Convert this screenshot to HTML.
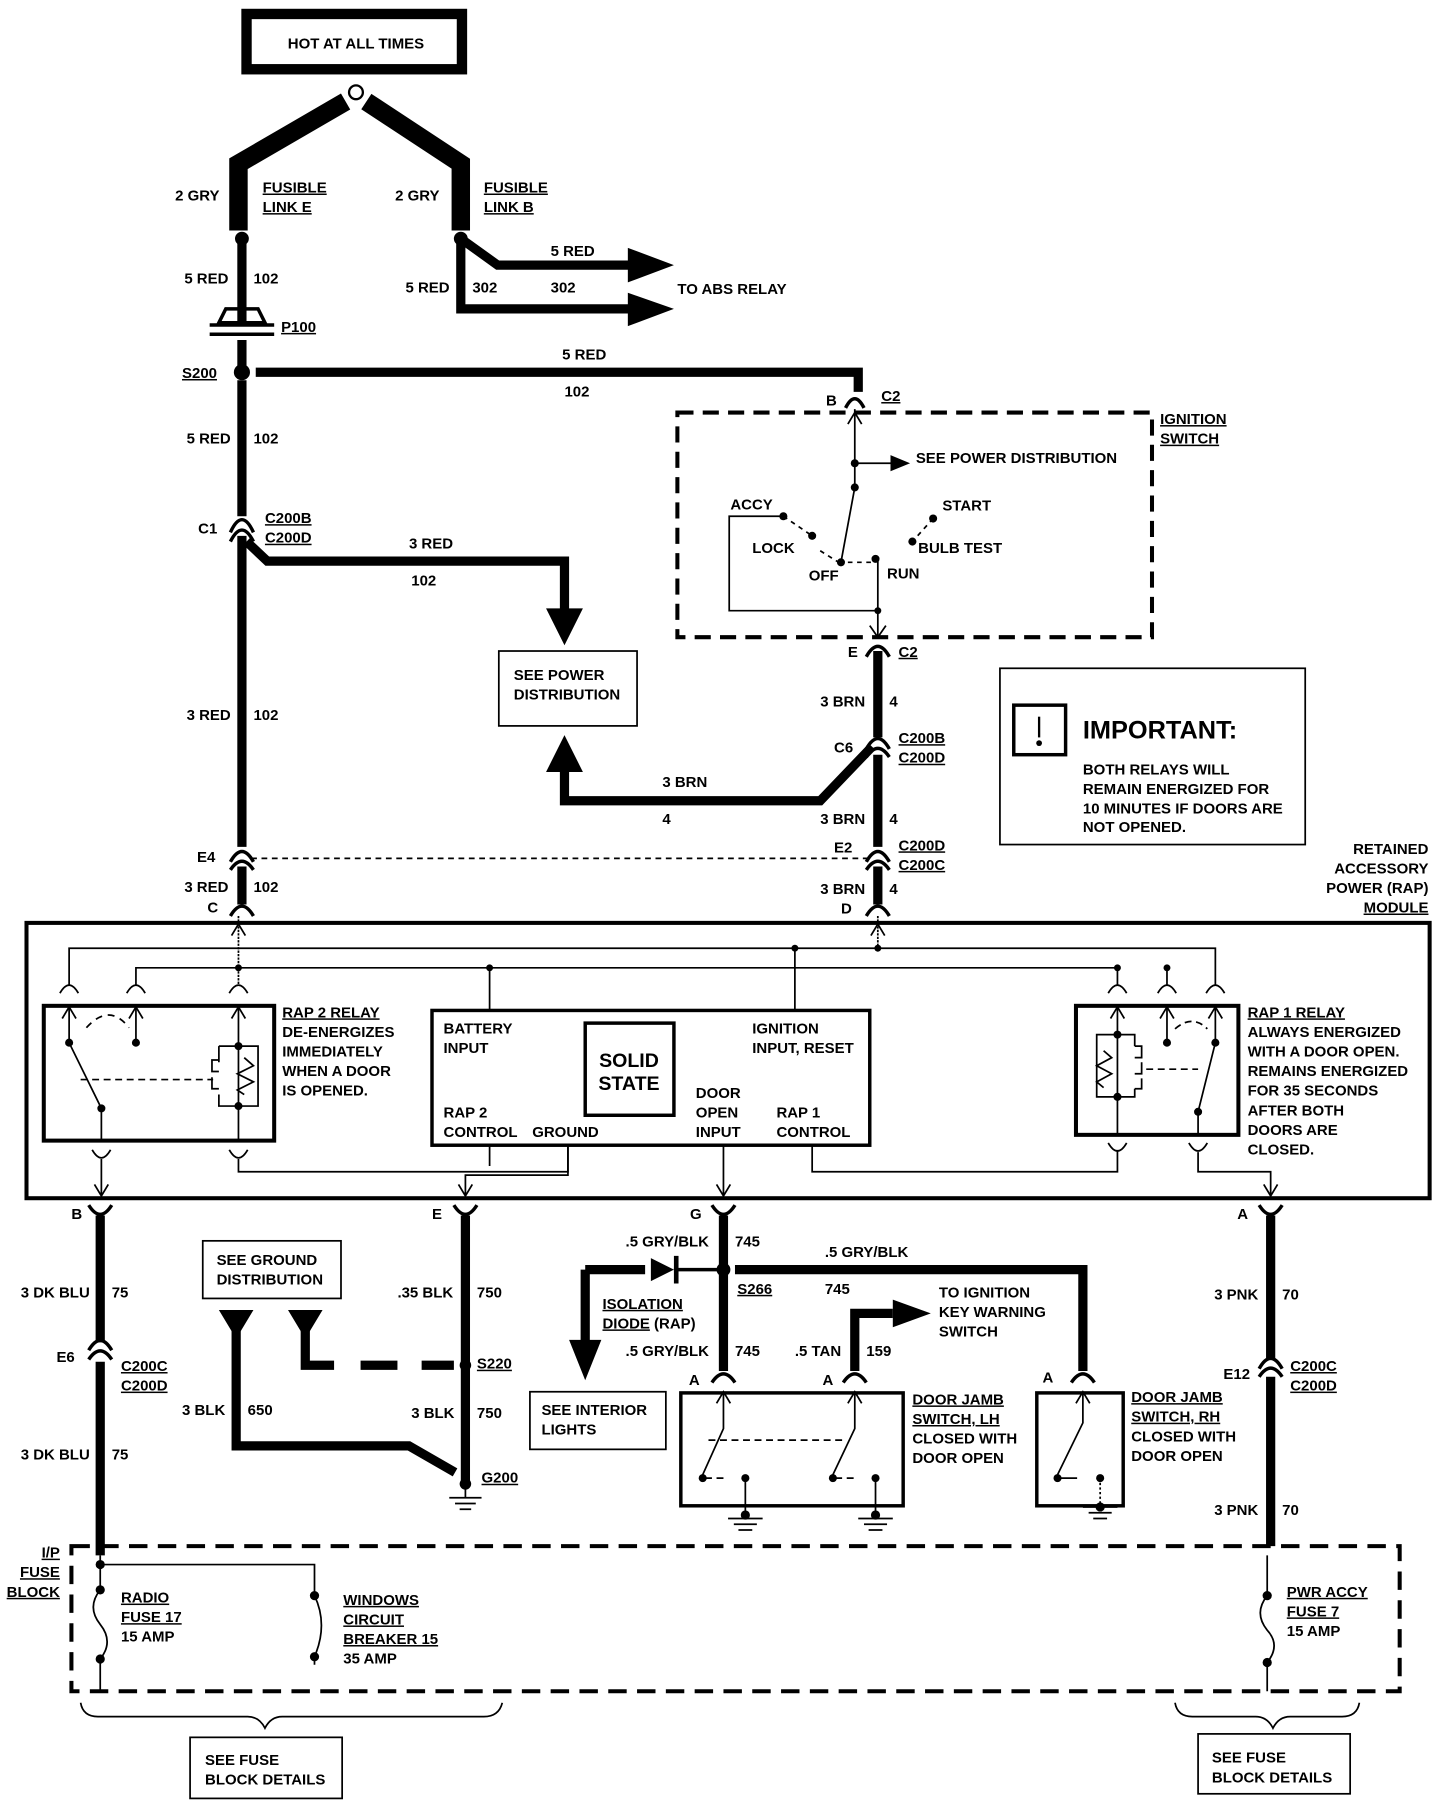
<!DOCTYPE html>
<html><head><meta charset="utf-8"><style>
html,body{margin:0;padding:0;background:#fff}
svg{display:block}
text{font-family:"Liberation Sans Narrow","Liberation Sans",sans-serif;font-size:13px;font-weight:bold;fill:#000}
.u{text-decoration:underline}
</style></head><body>
<svg width="1440" height="1802" viewBox="0 0 1250 1564" xmlns="http://www.w3.org/2000/svg">
<rect width="1250" height="1564" fill="#fff"/>
<g fill="none" stroke="#000" stroke-linejoin="miter">
<rect x="214" y="12" width="187" height="48" stroke-width="9"/>
<circle cx="309" cy="80" r="6" stroke-width="2"/>
<path d="M300 88 L207 142 L207 200" stroke-width="16"/>
<path d="M318 88 L400 142 L400 200" stroke-width="16"/>
<path d="M210 207 V280" stroke-width="8"/>
<path d="M210 295 V323" stroke-width="8"/>
<path d="M190 280 L196 268 H224 L230 280 Z M182 282 H238 M182 290 H238" stroke-width="3"/>
<path d="M400 207 L432 230 H548" stroke-width="8"/>
<path d="M400 207 V268 H548" stroke-width="8"/>
<path d="M222 323 H745 V340" stroke-width="8"/>
<path d="M210 330 V448" stroke-width="8"/>
<path d="M210 465 V735" stroke-width="8"/>
<path d="M214 470 L232 487 H490 V530" stroke-width="8"/>
<path d="M490 665 V695 H712 L757 648" stroke-width="8"/>
<path d="M762 565 V640 M762 655 V735 M762 752 V785" stroke-width="8"/>
<path d="M210 752 V785" stroke-width="8"/>
<path d="M218 745 H755" stroke-width="1.5" stroke-dasharray="5 4"/>
<path d="M200 462 Q210 440 220 462 M200 470 Q210 450 220 470" stroke-width="3"/>
<path d="M200 748 Q210 730 220 748 M200 755 Q210 740 220 755" stroke-width="3"/>
<path d="M200 795 Q210 778 220 795" stroke-width="3"/>
<path d="M752 650 Q762 632 772 650 M752 657 Q762 642 772 657" stroke-width="3"/>
<path d="M752 748 Q762 730 772 748 M752 755 Q762 740 772 755" stroke-width="3"/>
<path d="M752 795 Q762 778 772 795" stroke-width="3"/>
<path d="M734 354 Q742 338 750 354" stroke-width="3"/>
<path d="M752 570 Q762 552 772 570" stroke-width="3"/>
<rect x="433" y="565" width="120" height="65" stroke-width="1.5"/>
<rect x="588" y="358" width="412" height="195" stroke-width="3.5" stroke-dasharray="14 8"/>
<path d="M742 355 V423 L730 488" stroke-width="1.5"/>
<path d="M736 368 L742 358 L748 368" stroke-width="1.5"/>
<path d="M742 402 H775" stroke-width="1.5"/>
<path d="M680 448 L705 465 M712 478 L728 488 M736 488 H760 M810 450 L792 470" stroke-width="1.5" stroke-dasharray="4 4"/>
<path d="M680 448 H633 V530 H762 V485 M762 530 V553" stroke-width="1.5"/>
<path d="M755 543 L762 553 L769 543" stroke-width="1.5"/>
<rect x="868" y="580" width="265" height="153" stroke-width="1.5"/>
<rect x="880" y="612" width="45" height="43" stroke-width="3"/>
<path d="M902 622 V640" stroke-width="2"/>
<rect x="23" y="801" width="1218" height="239" stroke-width="3.5"/>
<path d="M60 855 V823 H1055 V855" stroke-width="1.5"/>
<path d="M118 855 V840 H970 V855" stroke-width="1.5"/>
<path d="M207 795 V855 M762 795 V823" stroke-width="1.5" stroke-dasharray="2 1"/>
<path d="M425 840 V878 M690 823 V878 M1013 840 V855" stroke-width="1.5"/>
<path d="M52 862 Q60 848 68 862 M110 862 Q118 848 126 862 M199 862 Q207 848 215 862 M962 862 Q970 848 978 862 M1005 862 Q1013 848 1021 862 M1047 862 Q1055 848 1063 862" stroke-width="1.5"/>
<path d="M201 812 L207 802 L213 812 M756 812 L762 802 L768 812" stroke-width="1.5"/>
<rect x="38" y="873" width="200" height="117" stroke-width="3.5"/>
<path d="M60 873 V905 L88 962 V990 M118 873 V905 M207 873 V962 V990" stroke-width="1.5"/>
<path d="M54 884 L60 874 L66 884 M112 884 L118 874 L124 884 M201 884 L207 874 L213 884" stroke-width="1.5"/>
<path d="M75 892 Q95 870 112 892" stroke-width="1.5" stroke-dasharray="6 5"/>
<path d="M70 937 H185" stroke-width="1.5" stroke-dasharray="6 4"/>
<path d="M190 908 H224 V960 H190 V950 M190 922 V908 M212 918 L220 925 L206 932 L220 939 L206 946 L212 950" stroke-width="1.5"/>
<path d="M190 920 H184 V930 H190 M184 935 V945 H190" stroke-width="1.5"/>
<path d="M80 998 Q88 1012 96 998 M199 998 Q207 1012 215 998" stroke-width="1.5"/>
<path d="M88 1006 V1038 M82 1028 L88 1038 L94 1028 M207 1006 V1017 H493 V995" stroke-width="1.5"/>
<rect x="375" y="877" width="380" height="117" stroke-width="3"/>
<rect x="508" y="888" width="77" height="80" stroke-width="3"/>
<path d="M425 995 V1012 M493 995 V1020 H404 V1038 M398 1028 L404 1038 L410 1028" stroke-width="1.5"/>
<path d="M628 995 V1038 M622 1028 L628 1038 L634 1028 M705 995 V1017 H970 V998" stroke-width="1.5"/>
<rect x="934" y="873" width="141" height="112" stroke-width="3.5"/>
<path d="M970 873 V985 M1013 873 V905 M1055 873 V905 L1040 965 V985" stroke-width="1.5"/>
<path d="M964 884 L970 874 L976 884 M1007 884 L1013 874 L1019 884 M1049 884 L1055 874 L1061 884" stroke-width="1.5"/>
<path d="M970 898 H952 V952 H970 M970 898 H985 V908 M985 945 V952 H970" stroke-width="1.5"/>
<path d="M958 912 L965 918 L952 925 L965 932 L952 939 L958 944" stroke-width="1.5"/>
<path d="M985 908 H991 V918 H985 M991 922 V932 H985 M991 936 V945 H985" stroke-width="1.5"/>
<path d="M1020 893 Q1035 880 1048 893 M995 928 H1040" stroke-width="1.5" stroke-dasharray="6 4"/>
<path d="M962 992 Q970 1006 978 992 M1032 992 Q1040 1006 1048 992 M1040 1000 V1017 H1103 V1038 M1097 1028 L1103 1038 L1109 1028" stroke-width="1.5"/>
<path d="M77 1046 Q87 1062 97 1046 M394 1046 Q404 1062 414 1046 M618 1046 Q628 1062 638 1046 M1093 1046 Q1103 1062 1113 1046" stroke-width="3"/>
<path d="M87 1055 V1165 M87 1182 V1350" stroke-width="8"/>
<path d="M77 1172 Q87 1155 97 1172 M77 1180 Q87 1165 97 1180" stroke-width="3"/>
<path d="M404 1055 V1285" stroke-width="8"/>
<path d="M628 1055 V1190" stroke-width="8"/>
<path d="M638 1102 H940 V1190" stroke-width="8"/>
<path d="M508 1102 V1165 M508 1102 H560" stroke-width="8"/>
<path d="M742 1190 V1140 H775" stroke-width="8"/>
<path d="M1103 1055 V1180 M1103 1195 V1342" stroke-width="8"/>
<path d="M1093 1188 Q1103 1170 1113 1188 M1093 1195 Q1103 1180 1113 1195" stroke-width="3"/>
<path d="M618 1200 Q628 1185 638 1200 M732 1200 Q742 1185 752 1200 M930 1200 Q940 1185 950 1200" stroke-width="3"/>
<path d="M585 1102 H628" stroke-width="3"/>
<path d="M265 1150 V1185 H290" stroke-width="8"/>
<path d="M313 1185 H345 M366 1185 H394" stroke-width="8"/>
<path d="M205 1150 V1255 H355 L395 1278" stroke-width="8"/>
<rect x="176" y="1077" width="120" height="50" stroke-width="1.5"/>
<rect x="460" y="1208" width="118" height="50" stroke-width="1.5"/>
<path d="M404 1292 V1300 M390 1300 H418 M395 1305 H413 M399 1310 H409" stroke-width="1.5"/>
<rect x="591" y="1209" width="193" height="98" stroke-width="3"/>
<path d="M628 1209 V1240 L610 1280 M742 1209 V1240 L723 1280 M622 1218 L628 1208 L634 1218 M736 1218 L742 1208 L748 1218" stroke-width="1.5"/>
<path d="M615 1250 H735 M612 1283 H630 M725 1283 H745" stroke-width="1.5" stroke-dasharray="6 4"/>
<path d="M647 1283 V1315 M760 1283 V1315 M632 1318 H662 M637 1323 H657 M641 1328 H653 M745 1318 H775 M750 1323 H770 M754 1328 H766" stroke-width="1.5"/>
<rect x="900" y="1209" width="75" height="98" stroke-width="3"/>
<path d="M940 1209 V1235 L918 1280 M934 1218 L940 1208 L946 1218 M918 1283 H935" stroke-width="1.5"/>
<path d="M955 1283 V1308" stroke-width="1.5" stroke-dasharray="2 2"/>
<path d="M940 1308 H970 M945 1313 H965 M949 1318 H961" stroke-width="1.5"/>
<rect x="62" y="1342" width="1153" height="126" stroke-width="3.5" stroke-dasharray="16 9"/>
<path d="M87 1350 V1380 Q75 1395 87 1410 Q99 1425 87 1440 V1468" stroke-width="1.5"/>
<path d="M87 1358 H273 V1385 Q285 1410 273 1438 V1445" stroke-width="1.5"/>
<path d="M1100 1350 V1385 Q1088 1400 1100 1415 Q1112 1428 1100 1443 V1468" stroke-width="1.5"/>
<path d="M70 1478 Q72 1490 85 1490 H215 Q225 1490 230 1500 Q235 1490 245 1490 H420 Q433 1490 436 1478" stroke-width="1.5"/>
<path d="M1020 1478 Q1022 1490 1035 1490 H1090 Q1100 1490 1105 1500 Q1110 1490 1120 1490 H1165 Q1178 1490 1180 1478" stroke-width="1.5"/>
<rect x="165" y="1508" width="132" height="53" stroke-width="1.5"/>
<rect x="1040" y="1505" width="132" height="52" stroke-width="1.5"/>
</g>
<g fill="#000" stroke="none">
<rect x="220" y="18" width="175" height="36" fill="#fff"/>
<circle cx="210" cy="207" r="6"/><circle cx="400" cy="207" r="6"/>
<circle cx="210" cy="323" r="7"/>
<path d="M545 215 L585 230 L545 245 Z M545 254 L585 268 L545 283 Z"/>
<path d="M474 528 L506 528 L490 560 Z M474 670 L506 670 L490 638 Z"/>
<path d="M773 395 L790 402 L773 409 Z"/>
<circle cx="742" cy="402" r="3.5"/><circle cx="742" cy="423" r="3.5"/><circle cx="680" cy="448" r="3.5"/><circle cx="705" cy="465" r="3.5"/><circle cx="730" cy="488" r="3.5"/><circle cx="760" cy="485" r="3.5"/><circle cx="810" cy="450" r="3.5"/><circle cx="792" cy="470" r="3.5"/><circle cx="762" cy="530" r="3"/>
<circle cx="902" cy="645" r="2.5"/>
<circle cx="207" cy="840" r="3"/><circle cx="425" cy="840" r="3"/><circle cx="690" cy="823" r="3"/><circle cx="762" cy="823" r="3"/><circle cx="970" cy="840" r="3"/><circle cx="1013" cy="840" r="3"/>
<circle cx="60" cy="905" r="3.5"/><circle cx="118" cy="905" r="3.5"/><circle cx="88" cy="962" r="3.5"/><circle cx="207" cy="908" r="3.5"/><circle cx="207" cy="960" r="3.5"/>
<circle cx="970" cy="898" r="3.5"/><circle cx="970" cy="952" r="3.5"/><circle cx="1013" cy="905" r="3.5"/><circle cx="1055" cy="905" r="3.5"/><circle cx="1040" cy="965" r="3.5"/>
<circle cx="628" cy="1102" r="6"/><circle cx="404" cy="1185" r="5"/><circle cx="404" cy="1288" r="5"/>
<path d="M565 1092 L585 1102 L565 1112 Z M585 1090 H589 V1114 H585 Z"/>
<path d="M494 1163 L522 1163 L508 1198 Z"/>
<path d="M775 1128 L808 1140 L775 1152 Z"/>
<path d="M190 1137 L220 1137 L205 1162 Z M250 1137 L280 1137 L265 1162 Z"/>
<circle cx="610" cy="1283" r="3.5"/><circle cx="647" cy="1283" r="3.5"/><circle cx="723" cy="1283" r="3.5"/><circle cx="760" cy="1283" r="3.5"/><circle cx="647" cy="1315" r="4"/><circle cx="760" cy="1315" r="4"/>
<circle cx="918" cy="1283" r="3.5"/><circle cx="955" cy="1283" r="3.5"/><circle cx="955" cy="1308" r="4"/>
<circle cx="87" cy="1358" r="4"/><circle cx="87" cy="1380" r="4"/><circle cx="87" cy="1440" r="4"/><circle cx="273" cy="1385" r="4"/><circle cx="273" cy="1438" r="4"/>
<circle cx="1100" cy="1385" r="4"/><circle cx="1100" cy="1443" r="4"/>
</g>
<g>
<text x="309" y="42" text-anchor="middle">HOT AT ALL TIMES</text>
<text x="152" y="174">2 GRY</text>
<text x="228" y="167" class="u">FUSIBLE</text><text x="228" y="184" class="u">LINK E</text>
<text x="343" y="174">2 GRY</text>
<text x="420" y="167" class="u">FUSIBLE</text><text x="420" y="184" class="u">LINK B</text>
<text x="160" y="246">5 RED</text><text x="220" y="246">102</text>
<text x="478" y="222">5 RED</text>
<text x="352" y="254">5 RED</text><text x="410" y="254">302</text><text x="478" y="254">302</text>
<text x="588" y="255">TO ABS RELAY</text>
<text x="244" y="288" class="u">P100</text>
<text x="158" y="328" class="u">S200</text>
<text x="488" y="312">5 RED</text><text x="490" y="344">102</text>
<text x="717" y="352">B</text><text x="765" y="348" class="u">C2</text>
<text x="1007" y="368" class="u">IGNITION</text><text x="1007" y="385" class="u">SWITCH</text>
<text x="795" y="402">SEE POWER DISTRIBUTION</text>
<text x="634" y="442">ACCY</text><text x="818" y="443">START</text>
<text x="653" y="480">LOCK</text><text x="797" y="480">BULB TEST</text>
<text x="702" y="504">OFF</text><text x="770" y="502">RUN</text>
<text x="162" y="385">5 RED</text><text x="220" y="385">102</text>
<text x="172" y="463">C1</text>
<text x="230" y="454" class="u">C200B</text><text x="230" y="471" class="u">C200D</text>
<text x="355" y="476">3 RED</text><text x="357" y="508">102</text>
<text x="446" y="590">SEE POWER</text><text x="446" y="607">DISTRIBUTION</text>
<text x="736" y="570">E</text><text x="780" y="570" class="u">C2</text>
<text x="712" y="613">3 BRN</text><text x="772" y="613">4</text>
<text x="724" y="653">C6</text>
<text x="780" y="645" class="u">C200B</text><text x="780" y="662" class="u">C200D</text>
<text x="162" y="625">3 RED</text><text x="220" y="625">102</text>
<text x="575" y="683">3 BRN</text><text x="575" y="715">4</text>
<text x="712" y="715">3 BRN</text><text x="772" y="715">4</text>
<text x="171" y="748">E4</text><text x="724" y="740">E2</text>
<text x="780" y="738" class="u">C200D</text><text x="780" y="755" class="u">C200C</text>
<text x="160" y="774">3 RED</text><text x="220" y="774">102</text>
<text x="712" y="776">3 BRN</text><text x="772" y="776">4</text>
<text x="180" y="792">C</text><text x="730" y="793">D</text>
<text x="940" y="641" style="font-size:22px">IMPORTANT:</text>
<text x="940" y="672">BOTH RELAYS WILL</text>
<text x="940" y="689">REMAIN ENERGIZED FOR</text>
<text x="940" y="706">10 MINUTES IF DOORS ARE</text>
<text x="940" y="722">NOT OPENED.</text>
<text x="1240" y="741" text-anchor="end">RETAINED</text>
<text x="1240" y="758" text-anchor="end">ACCESSORY</text>
<text x="1240" y="775" text-anchor="end">POWER (RAP)</text>
<text x="1240" y="792" text-anchor="end" class="u">MODULE</text>
<text x="245" y="883" class="u">RAP 2 RELAY</text>
<text x="245" y="900">DE-ENERGIZES</text>
<text x="245" y="917">IMMEDIATELY</text>
<text x="245" y="934">WHEN A DOOR</text>
<text x="245" y="951">IS OPENED.</text>
<text x="385" y="897">BATTERY</text><text x="385" y="914">INPUT</text>
<text x="653" y="897">IGNITION</text><text x="653" y="914">INPUT, RESET</text>
<text x="546" y="926" text-anchor="middle" style="font-size:17px">SOLID</text>
<text x="546" y="946" text-anchor="middle" style="font-size:17px">STATE</text>
<text x="604" y="953">DOOR</text><text x="604" y="970">OPEN</text><text x="604" y="987">INPUT</text>
<text x="385" y="970">RAP 2</text><text x="385" y="987">CONTROL</text><text x="462" y="987">GROUND</text>
<text x="674" y="970">RAP 1</text><text x="674" y="987">CONTROL</text>
<text x="1083" y="883" class="u">RAP 1 RELAY</text>
<text x="1083" y="900">ALWAYS ENERGIZED</text>
<text x="1083" y="917">WITH A DOOR OPEN.</text>
<text x="1083" y="934">REMAINS ENERGIZED</text>
<text x="1083" y="951">FOR 35 SECONDS</text>
<text x="1083" y="968">AFTER BOTH</text>
<text x="1083" y="985">DOORS ARE</text>
<text x="1083" y="1002">CLOSED.</text>
<text x="62" y="1058">B</text><text x="375" y="1058">E</text><text x="599" y="1058">G</text><text x="1074" y="1058">A</text>
<text x="18" y="1126">3 DK BLU</text><text x="97" y="1126">75</text>
<text x="49" y="1182">E6</text>
<text x="105" y="1190" class="u">C200C</text><text x="105" y="1207" class="u">C200D</text>
<text x="18" y="1267">3 DK BLU</text><text x="97" y="1267">75</text>
<text x="188" y="1098">SEE GROUND</text><text x="188" y="1115">DISTRIBUTION</text>
<text x="345" y="1126">.35 BLK</text><text x="414" y="1126">750</text>
<text x="414" y="1188" class="u">S220</text>
<text x="158" y="1228">3 BLK</text><text x="215" y="1228">650</text>
<text x="357" y="1231">3 BLK</text><text x="414" y="1231">750</text>
<text x="418" y="1287" class="u">G200</text>
<text x="543" y="1082">.5 GRY/BLK</text><text x="638" y="1082">745</text>
<text x="716" y="1091">.5 GRY/BLK</text>
<text x="640" y="1123" class="u">S266</text><text x="716" y="1123">745</text>
<text x="523" y="1136" class="u">ISOLATION</text><text x="523" y="1153"><tspan class="u">DIODE</tspan> (RAP)</text>
<text x="815" y="1126">TO IGNITION</text><text x="815" y="1143">KEY WARNING</text><text x="815" y="1160">SWITCH</text>
<text x="543" y="1177">.5 GRY/BLK</text><text x="638" y="1177">745</text>
<text x="690" y="1177">.5 TAN</text><text x="752" y="1177">159</text>
<text x="598" y="1202">A</text><text x="714" y="1202">A</text><text x="905" y="1200">A</text>
<text x="470" y="1228">SEE INTERIOR</text><text x="470" y="1245">LIGHTS</text>
<text x="792" y="1219" class="u">DOOR JAMB</text><text x="792" y="1236" class="u">SWITCH, LH</text>
<text x="792" y="1253">CLOSED WITH</text><text x="792" y="1270">DOOR OPEN</text>
<text x="982" y="1217" class="u">DOOR JAMB</text><text x="982" y="1234" class="u">SWITCH, RH</text>
<text x="982" y="1251">CLOSED WITH</text><text x="982" y="1268">DOOR OPEN</text>
<text x="1054" y="1128">3 PNK</text><text x="1113" y="1128">70</text>
<text x="1062" y="1197">E12</text>
<text x="1120" y="1190" class="u">C200C</text><text x="1120" y="1207" class="u">C200D</text>
<text x="1054" y="1315">3 PNK</text><text x="1113" y="1315">70</text>
<text x="52" y="1352" text-anchor="end" class="u">I/P</text>
<text x="52" y="1369" text-anchor="end" class="u">FUSE</text>
<text x="52" y="1386" text-anchor="end" class="u">BLOCK</text>
<text x="105" y="1391" class="u">RADIO</text><text x="105" y="1408" class="u">FUSE 17</text><text x="105" y="1425">15 AMP</text>
<text x="298" y="1393" class="u">WINDOWS</text><text x="298" y="1410" class="u">CIRCUIT</text><text x="298" y="1427" class="u">BREAKER 15</text><text x="298" y="1444">35 AMP</text>
<text x="1117" y="1386" class="u">PWR ACCY</text><text x="1117" y="1403" class="u">FUSE 7</text><text x="1117" y="1420">15 AMP</text>
<text x="178" y="1532">SEE FUSE</text><text x="178" y="1549">BLOCK DETAILS</text>
<text x="1052" y="1530">SEE FUSE</text><text x="1052" y="1547">BLOCK DETAILS</text>
</g>
</svg>
</body></html>
